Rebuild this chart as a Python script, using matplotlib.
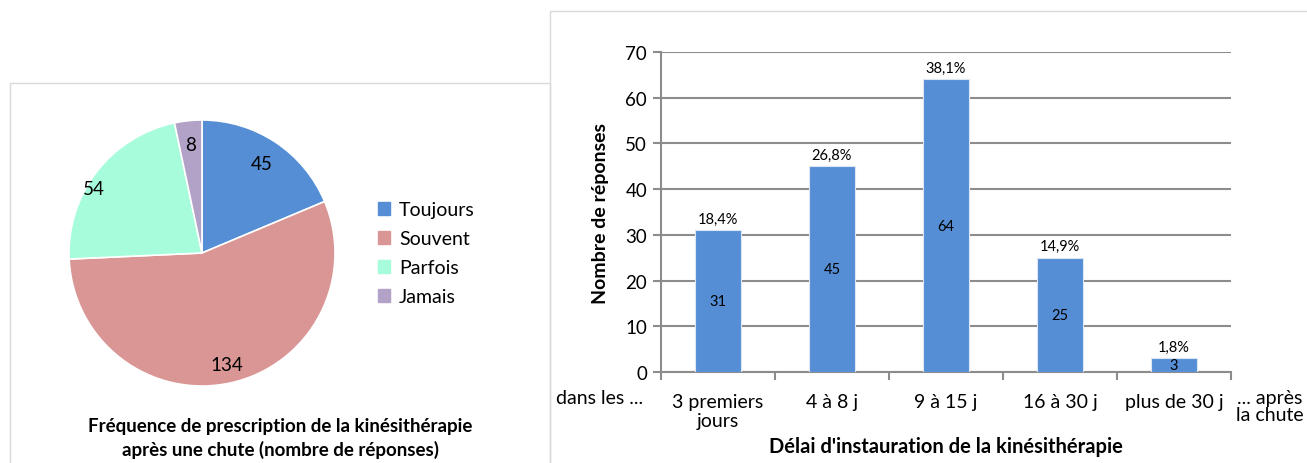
import matplotlib.pyplot as plt
import numpy as np
from matplotlib.patches import Rectangle

plt.rcParams['font.family'] = ['Lato', 'DejaVu Sans']

# pie data
freq_labels = ['Toujours', 'Souvent', 'Parfois', 'Jamais']
freq_values = [45, 134, 54, 8]
freq_colors = ['#558ED5', '#D99694', '#A6FCDB', '#B3A2C7']

# bar data
delai_labels = ['3 premiers\njours', '4 à 8 j', '9 à 15 j', '16 à 30 j', 'plus de 30 j']
delai_values = [31, 45, 64, 25, 3]
delai_pct = ['18,4%', '26,8%', '38,1%', '14,9%', '1,8%']

W, H = 1307, 464
fig = plt.figure(figsize=(W / 100, H / 100), dpi=100)

def fx(px):
    return px / W

def fy(py):
    return 1 - py / H

# panel borders
fig.patches.append(Rectangle((fx(10), fy(470)), fx(540), fy(84) - fy(470), transform=fig.transFigure,
                             fill=False, edgecolor='#D9D9D9', lw=1))
fig.patches.append(Rectangle((fx(550), fy(470)), fx(760), fy(12) - fy(470), transform=fig.transFigure,
                             fill=False, edgecolor='#D9D9D9', lw=1))

# ---- pie ----
cx, cy, r = 202, 254, 133
ax1 = fig.add_axes([fx(cx - r), fy(cy + r), fx(2 * r), fy(cy - r) - fy(cy + r)])
wedges, _ = ax1.pie(freq_values, colors=freq_colors, startangle=90, counterclock=False,
                    radius=1, wedgeprops=dict(edgecolor='white', linewidth=1.2))
ax1.set_xlim(-1.0, 1.0)
ax1.set_ylim(-1.0, 1.0)
ax1.set_aspect('equal')
ax1.axis('off')

dists = [0.81, 0.86, 0.95, 0.82]
shifts = [0, 0, 7, 0]
for w, v, d, s in zip(wedges, freq_values, dists, shifts):
    ang = np.deg2rad((w.theta1 + w.theta2) / 2 + s)
    ax1.text(d * np.cos(ang), d * np.sin(ang), str(v), ha='center', va='center', fontsize=13.5)

handles = [Rectangle((0, 0), 1, 1, color=c) for c in freq_colors]
fig.legend(handles, freq_labels, loc='center left', bbox_to_anchor=(fx(360), fy(254)),
           frameon=False, fontsize=14, handlelength=0.65, handleheight=0.65,
           handletextpad=0.45, labelspacing=0.62)

fig.text(fx(280), fy(427), 'Fréquence de prescription de la kinésithérapie', ha='center', va='center',
         fontsize=13.5, fontweight='bold')
fig.text(fx(280), fy(450), 'après une chute (nombre de réponses)', ha='center', va='center',
         fontsize=13.5, fontweight='bold')

# ---- bars ----
ax2 = fig.add_axes([fx(661), fy(373), fx(1231) - fx(661), fy(53) - fy(373)])
x = np.arange(len(delai_values))
bars = ax2.bar(x, delai_values, width=0.4, color='#558ED5', edgecolor='#DDE6F2', linewidth=0.8, zorder=3)
ax2.set_xlim(-0.5, len(delai_values) - 0.5)
ax2.set_ylim(0, 70)
ax2.set_yticks(range(0, 71, 10))
ax2.yaxis.grid(True, color='#8C8C8C', lw=1.5, zorder=0)
ax2.set_axisbelow(True)
for sp in ['top', 'right']:
    ax2.spines[sp].set_visible(False)
for sp in ['left', 'bottom']:
    ax2.spines[sp].set_color('#8C8C8C')
    ax2.spines[sp].set_linewidth(1.5)
ax2.tick_params(axis='y', labelsize=13.5, length=6, color='#8C8C8C', width=1.5, pad=4)
ax2.set_xticks(np.arange(-0.5, len(delai_values), 1.0))
ax2.set_xticklabels([])
ax2.tick_params(axis='x', length=6, color='#8C8C8C', width=1.5, direction='out')
ax2.set_xticks(x, minor=True)
ax2.set_xticklabels(delai_labels, minor=True, fontsize=14, linespacing=1.15)
ax2.tick_params(axis='x', which='minor', length=0, pad=15)

for b, v, p in zip(bars, delai_values, delai_pct):
    xc = b.get_x() + b.get_width() / 2
    ax2.text(xc, v + 1, p, ha='center', va='bottom', fontsize=10.5)
    ax2.text(xc, v / 2, str(v), ha='center', va='center', fontsize=10.5)

ax2.set_ylabel('Nombre de réponses', fontsize=14, fontweight='bold', labelpad=12)
ax2.set_xlabel("Délai d'instauration de la kinésithérapie", fontsize=14.5, fontweight='bold', labelpad=5)

fig.text(fx(600), fy(399), 'dans les ...', ha='center', va='center', fontsize=14)
fig.text(fx(1270), fy(407), '... après\nla chute', ha='center', va='center', fontsize=14, linespacing=1.0)

fig.savefig('out.png', dpi=100)
